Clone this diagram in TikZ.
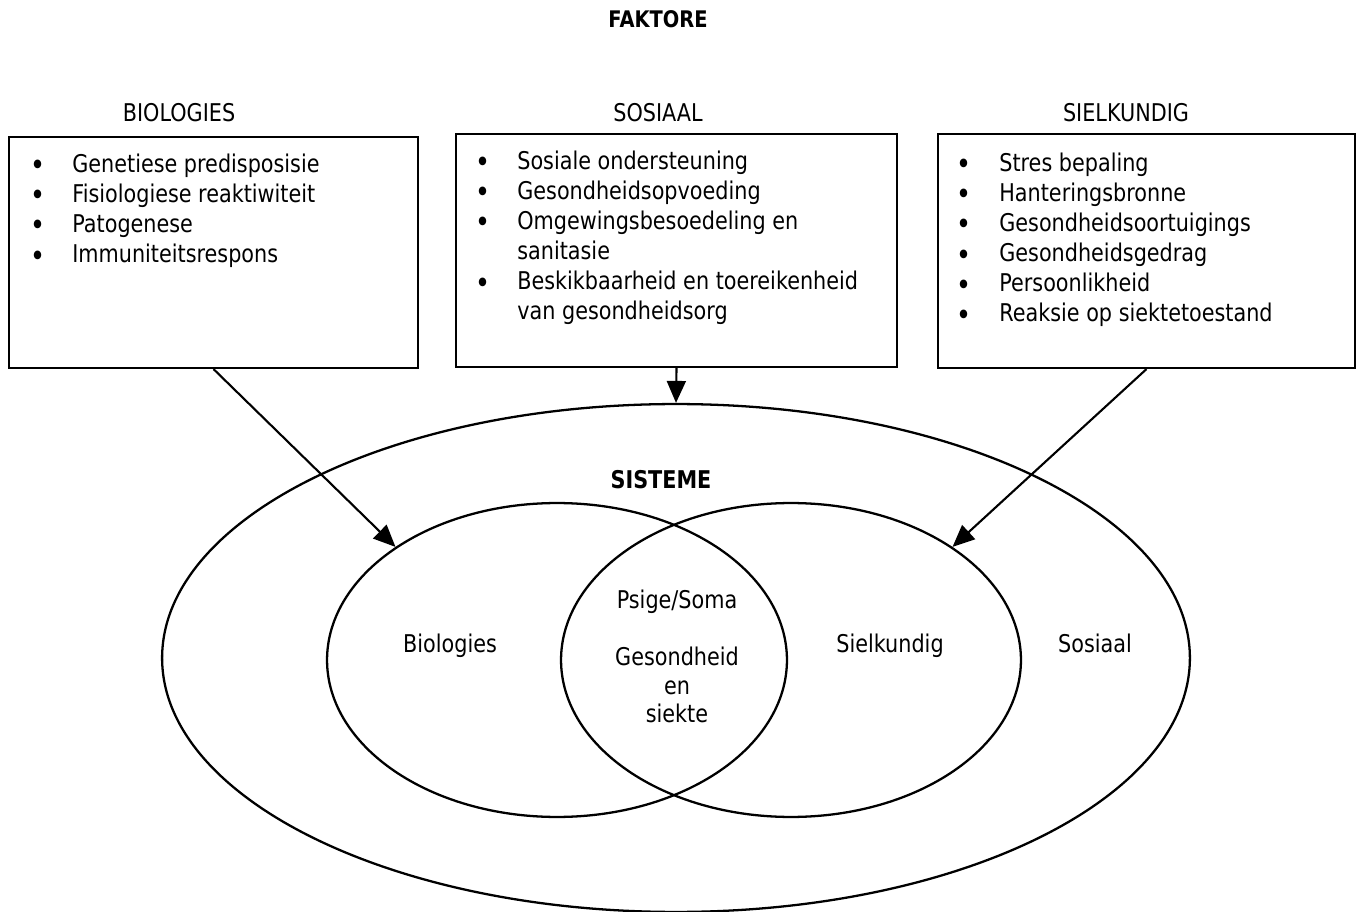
\documentclass[tikz,border=0pt]{standalone}
\usepackage{fontspec}
\setmainfont{DejaVu Sans}[FakeStretch=0.85]
\usetikzlibrary{arrows.meta, shapes.geometric}

\newcommand{\bul}{\raisebox{-2pt}{\fontsize{17}{17.1}\selectfont\textbullet}}

\begin{document}
\begin{tikzpicture}[x=0.02cm, y=-0.02cm,
    every node/.style={inner sep=0pt, font=\fontsize{13.9}{17.1}\selectfont},
    box/.style={draw, line width=1.2pt, anchor=north west},
    items/.style={anchor=north west},
    ring/.style={draw, ellipse, line width=1.3pt},
    head/.style={anchor=base},
    arr/.style={line width=1.2pt, -{Triangle[length=0.44cm, width=0.38cm]}}]
  \useasboundingbox (0, 0) rectangle (1357, 912);

  \node[head, font=\bfseries\fontsize{13}{15}\selectfont] (faktore) at (658, 28) {FAKTORE};

  % the three groups of factors
  \node[head] (hbio) at (179, 122) {BIOLOGIES};
  \node[head] (hsos) at (658, 122) {SOSIAAL};
  \node[head] (hsiel) at (1126, 122) {SIELKUNDIG};

  \node[box, minimum width=8.18cm, minimum height=4.62cm] (bio) at (8, 136) {};
  \node[box, minimum width=8.82cm, minimum height=4.66cm] (sos) at (455, 133) {};
  \node[box, minimum width=8.34cm, minimum height=4.68cm] (siel) at (937, 133) {};

  \node[items] (biolist) at (30, 151) {\begin{tabular}{@{}p{0.84cm}@{}l@{}}
      \bul & Genetiese predisposisie\\
      \bul & Fisiologiese reaktiwiteit\\
      \bul & Patogenese\\
      \bul & Immuniteitsrespons
    \end{tabular}};
  \node[items] (soslist) at (475, 148) {\begin{tabular}{@{}p{0.84cm}@{}l@{}}
      \bul & Sosiale ondersteuning\\
      \bul & Gesondheidsopvoeding\\
      \bul & Omgewingsbesoedeling en\\
           & sanitasie\\
      \bul & Beskikbaarheid en toereikenheid\\
           & van gesondheidsorg
    \end{tabular}};
  \node[items] (siellist) at (956, 150) {\begin{tabular}{@{}p{0.86cm}@{}l@{}}
      \bul & Stres bepaling\\
      \bul & Hanteringsbronne\\
      \bul & Gesondheidsoortuigings\\
      \bul & Gesondheidsgedrag\\
      \bul & Persoonlikheid\\
      \bul & Reaksie op siektetoestand
    \end{tabular}};

  % systems
  \node[ring, minimum width=20.56cm, minimum height=10.16cm] (sys) at (676, 658) {};
  \node[ring, minimum width=9.2cm, minimum height=6.28cm] (biol) at (557, 660) {};
  \node[ring, minimum width=9.2cm, minimum height=6.28cm] (psyc) at (791, 660) {};

  \node[head, font=\bfseries\fontsize{13.9}{17.1}\selectfont] (sisteme) at (661, 488) {SISTEME};
  \node[head] (tbio) at (450, 652) {Biologies};
  \node[head] (psige) at (677, 608) {Psige/Soma};
  \node[align=center, font=\fontsize{13.9}{16.2}\selectfont] (gesond) at (677, 685) {Gesondheid\\en\\siekte};
  \node[head] (tsiel) at (890, 652) {Sielkundig};
  \node[head] (tsos) at (1095, 652) {Sosiaal};

  \draw[arr] (bio.south) -- (biol.145);
  \draw[arr] (sos.south) -- (sys.north);
  \draw[arr] (siel.south) -- (psyc.35);
\end{tikzpicture}
\end{document}
